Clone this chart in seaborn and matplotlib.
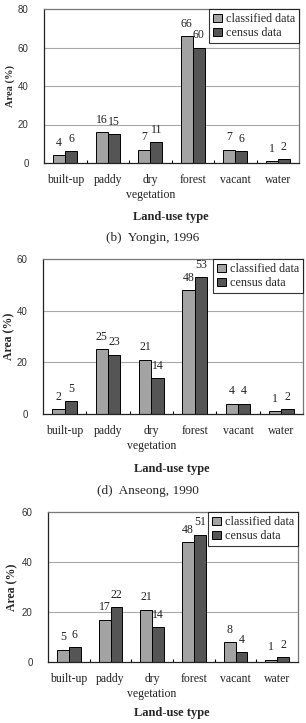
import matplotlib
matplotlib.use("Agg")
import matplotlib.pyplot as plt
import seaborn as sns
import pandas as pd
from matplotlib.ticker import FixedLocator

categories = ["built-up", "paddy", "dry\nvegetation", "forest", "vacant", "water"]
series_names = ["classified data", "census data"]

p1_classified = [4, 16, 7, 66, 7, 1]
p1_census = [6, 15, 11, 60, 6, 2]
p2_classified = [2, 25, 21, 48, 4, 1]
p2_census = [5, 23, 14, 53, 4, 2]
p3_classified = [5, 17, 21, 48, 8, 1]
p3_census = [6, 22, 14, 51, 4, 2]

y1_ticks = [0, 20, 40, 60, 80]
y23_ticks = [0, 20, 40, 60]

caption1 = "(b)  Yongin, 1996"
caption2 = "(d)  Anseong, 1990"
xlabel = "Land-use type"
ylabel = "Area (%)"

sns.set_theme(style="white")
plt.rcParams["font.family"] = ["Liberation Serif", "DejaVu Serif"]

W, H = 306, 723
fig = plt.figure(figsize=(W / 100, H / 100), dpi=100)

palette = {"classified data": "#a3a3a3", "census data": "#555555"}


def make_df(cls, cen):
    return pd.DataFrame({
        "category": categories * 2,
        "value": list(cls) + list(cen),
        "series": [series_names[0]] * len(categories) + [series_names[1]] * len(categories),
    })


def panel(left, top, right, bottom, cls, cen, yticks, ylab_x, ylab_size, xlab_y):
    ax = fig.add_axes([left / W, 1 - bottom / H, (right - left) / W, (bottom - top) / H])
    df = make_df(cls, cen)
    sns.barplot(data=df, x="category", y="value", hue="series", order=categories,
                hue_order=series_names, palette=palette, width=0.57, dodge=True,
                edgecolor="black", linewidth=0.7, errorbar=None, ax=ax, saturation=1)
    ax.set_ylim(yticks[0], yticks[-1])
    ax.set_xlim(-0.5, len(categories) - 0.5)
    ax.set_yticks(yticks)
    ax.set_yticklabels([str(t) for t in yticks], family="Liberation Sans", fontsize=7, color="#333333")
    for t in yticks[1:-1]:
        ax.axhline(t, color="#a8a8a8", lw=0.8, zorder=0)
    ax.tick_params(axis="y", length=0, pad=11)
    ax.tick_params(axis="x", length=0, pad=8, labelsize=8.5)
    for lbl in ax.get_xticklabels():
        lbl.set_linespacing(1.35)
        lbl.set_color("#222222")
    ax.xaxis.set_minor_locator(FixedLocator([i + 0.5 for i in range(len(categories) - 1)]))
    ax.tick_params(axis="x", which="minor", direction="in", length=2.5, width=0.8,
                   color="black", bottom=True)
    ax.set_xlabel("")
    ax.set_ylabel("")
    for side in ["left", "bottom"]:
        ax.spines[side].set_color("#222222")
        ax.spines[side].set_linewidth(0.9)
    for side in ["top", "right"]:
        ax.spines[side].set_color("#777777")
        ax.spines[side].set_linewidth(0.9)
    for cont in ax.containers:
        ax.bar_label(cont, fmt="%d", padding=4.5, fontsize=8.5, color="#222222")
    leg = ax.legend(loc="upper right", bbox_to_anchor=(1.0, 1.0), borderaxespad=0,
                    fontsize=8.7, frameon=True, fancybox=False, handlelength=0.7,
                    handleheight=0.7, handletextpad=0.3, labelspacing=0.15,
                    borderpad=0.35)
    leg.get_frame().set_edgecolor("black")
    leg.get_frame().set_linewidth(0.8)
    fig.text(ylab_x / W, 1 - ((top + bottom) / 2) / H, ylabel, rotation=90,
             ha="center", va="center", fontsize=ylab_size, fontweight="bold")
    fig.text(((left + right) / 2 - 1) / W, 1 - xlab_y / H, xlabel, ha="center",
             va="center", fontsize=9, fontweight="bold")
    return ax


panel(44, 9, 299, 163, p1_classified, p1_census, y1_ticks, 10, 7.5, 217)
fig.text(153 / W, 1 - 238 / H, caption1, ha="center", va="center", fontsize=9.5)
panel(43, 259, 303, 414, p2_classified, p2_census, y23_ticks, 9, 8.5, 469)
fig.text(148 / W, 1 - 491 / H, caption2, ha="center", va="center", fontsize=9.5)
panel(48, 512, 298, 662, p3_classified, p3_census, y23_ticks, 12, 8.5, 713)

fig.savefig("out.png", dpi=100, facecolor="white")
